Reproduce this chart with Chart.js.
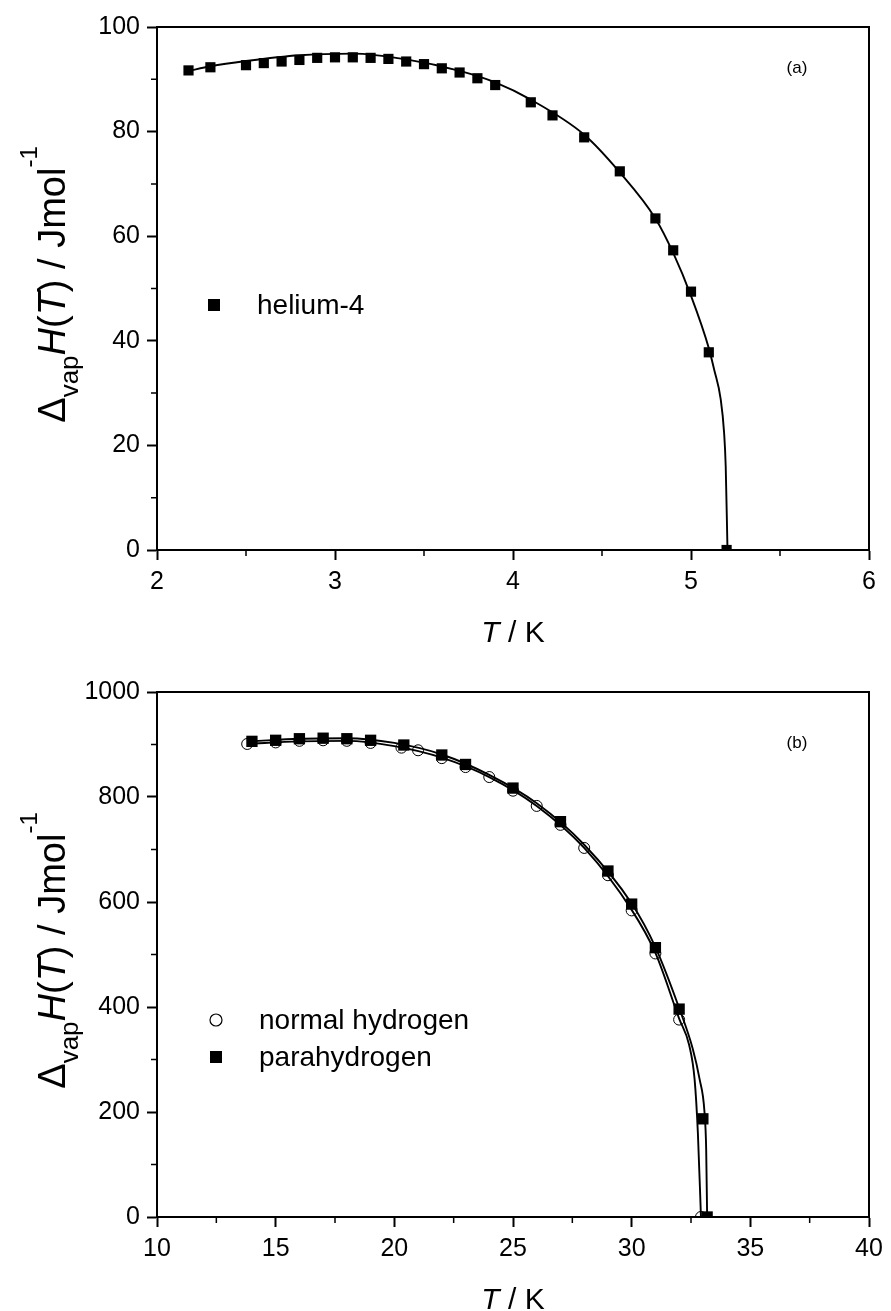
<!DOCTYPE html>
<html>
<head>
<meta charset="utf-8">
<script src="https://cdn.jsdelivr.net/npm/chart.js@4.4.0/dist/chart.umd.min.js"></script>
<style>
  html, body { margin: 0; padding: 0; background: #fff; }
  canvas { position: absolute; left: 0; }
  #chartA { top: 0; }
  #chartB { top: 665px; }
</style>
</head>
<body>
<canvas id="chartA" width="891" height="665"></canvas>
<canvas id="chartB" width="891" height="646"></canvas>
<script>
// (a) helium-4 : measured points and fitted curve
const heT = [2.177, 2.3, 2.5, 2.6, 2.7, 2.8, 2.9, 3.0, 3.1, 3.2, 3.3, 3.4, 3.5, 3.6, 3.7, 3.8, 3.9, 4.1, 4.222, 4.4, 4.6, 4.8, 4.9, 5.0, 5.1, 5.2];
const heH = [91.7, 92.3, 92.7, 93.1, 93.4, 93.7, 94.1, 94.2, 94.2, 94.1, 93.9, 93.4, 92.9, 92.1, 91.3, 90.2, 88.9, 85.6, 83.1, 78.9, 72.4, 63.4, 57.3, 49.4, 37.8, 0];
const heFitT = [2.177, 2.3, 2.5, 2.8, 3.1, 3.4, 3.7, 3.9, 4.1, 4.4, 4.6, 4.8, 4.9, 5.0, 5.1, 5.13, 5.167, 5.186, 5.195, 5.205];
const heFitH = [91.6, 92.5, 93.5, 94.6, 94.9, 93.8, 91.6, 89.4, 86.1, 79.4, 72.2, 63.4, 56.8, 48.6, 38.6, 34.5, 28.8, 22.4, 16, 0];

// (b) hydrogen : normal (open circles) and para (filled squares)
const normalT = [13.8, 15, 16, 17, 18, 19, 20.3, 21, 22, 23, 24, 25, 26, 27, 28, 29, 30, 31, 32, 32.92];
const normalH = [901, 904, 907, 908, 907, 903, 894, 889, 874, 857, 838, 812, 783, 747, 703, 651, 584, 502, 376, 0];
const paraT = [14, 15, 16, 17, 18, 19, 20.4, 22, 23, 25, 27, 29, 30, 31, 32, 33, 33.18];
const paraH = [906, 908, 911, 912, 911, 908, 899, 880, 862, 817, 753, 659, 596, 513, 396, 187, 0];
const normalFitT = [13.8, 16, 18, 20, 22, 24, 26, 28, 30, 31, 32, 32.42, 32.65, 32.79, 32.92];
const normalFitH = [901, 906, 907, 897, 875, 838, 783, 703, 585, 503, 378, 328, 263, 160, 0];
const paraFitT = [14, 16, 18, 20, 22, 24, 26, 28, 30, 31, 32, 32.57, 32.86, 33.07, 33.14, 33.18];
const paraFitH = [906, 911, 912, 903, 881, 842, 788, 709, 597, 514, 398, 321, 263, 199, 128, 0];

// tick values
const xTicksA = [2, 3, 4, 5, 6];
const xMinorA = [2.5, 3.5, 4.5, 5.5];
const yTicksA = [0, 20, 40, 60, 80, 100];
const yMinorA = [10, 30, 50, 70, 90];
const xTicksB = [10, 15, 20, 25, 30, 35, 40];
const xMinorB = [12.5, 17.5, 22.5, 27.5, 32.5, 37.5];
const yTicksB = [0, 200, 400, 600, 800, 1000];
const yMinorB = [100, 300, 500, 700, 900];

const toXY = (xs, ys) => xs.map((v, i) => ({ x: v, y: ys[i] }));

// draw a run of text pieces with different fonts / baseline shifts
function richText(ctx, parts, cx, baseY) {
  let total = 0;
  parts.forEach(p => { ctx.font = p.f; p.w = ctx.measureText(p.t).width; total += p.w; });
  let x = cx - total / 2;
  ctx.textBaseline = 'alphabetic';
  ctx.textAlign = 'left';
  parts.forEach(p => {
    ctx.font = p.f;
    ctx.fillText(p.t, x, baseY + (p.dy || 0));
    x += p.w;
  });
}

const yTitleParts = () => [
  { t: 'Δ', f: '38px Arial' },
  { t: 'vap', f: '26px Arial', dy: 13 },
  { t: 'H', f: 'italic 38px Arial' },
  { t: '(', f: '38px Arial' },
  { t: 'T', f: 'italic 38px Arial' },
  { t: ') / Jmol', f: '38px Arial' },
  { t: '-1', f: '24px Arial', dy: -28 }
];
const xTitleParts = () => [
  { t: 'T', f: 'italic 30px Arial' },
  { t: ' / K', f: '30px Arial' }
];

function decoPlugin(opts) {
  return {
    id: 'deco',
    afterDraw(chart) {
      const { ctx, chartArea: a, scales: { x, y } } = chart;
      ctx.save();
      ctx.strokeStyle = '#000';
      ctx.fillStyle = '#000';
      ctx.lineWidth = 2;
      // top + right frame
      ctx.beginPath();
      ctx.moveTo(a.left, a.top); ctx.lineTo(a.right, a.top); ctx.lineTo(a.right, a.bottom);
      ctx.stroke();
      // minor ticks
      ctx.lineWidth = 1.5;
      ctx.beginPath();
      opts.xMinor.forEach(v => { const px = x.getPixelForValue(v); ctx.moveTo(px, a.bottom); ctx.lineTo(px, a.bottom + 6); });
      opts.yMinor.forEach(v => { const py = y.getPixelForValue(v); ctx.moveTo(a.left - 6, py); ctx.lineTo(a.left, py); });
      ctx.stroke();

      // axis titles
      ctx.save();
      ctx.translate(65, (a.top + a.bottom) / 2 - 4);
      ctx.rotate(-Math.PI / 2);
      richText(ctx, yTitleParts(), 0, 0);
      ctx.restore();
      richText(ctx, xTitleParts(), (a.left + a.right) / 2, a.bottom + 92);

      // panel label
      ctx.font = '17px Arial';
      ctx.textAlign = 'center';
      ctx.textBaseline = 'middle';
      ctx.fillText(opts.label, 797, opts.labelY);

      // legend
      ctx.font = '28px Arial';
      ctx.textAlign = 'left';
      opts.legend.forEach(item => {
        if (item.style === 'rect') {
          ctx.fillRect(item.x - 6, item.y - 6, 12, 12);
        } else {
          ctx.lineWidth = 1.2;
          ctx.beginPath();
          ctx.arc(item.x, item.y, 6, 0, Math.PI * 2);
          ctx.stroke();
        }
        ctx.fillText(item.text, item.x + 43, item.y + 1);
      });
      ctx.restore();
    }
  };
}

function axisOpts(min, max, tickVals, fitFn) {
  return {
    type: 'linear',
    min: min,
    max: max,
    afterBuildTicks: (s) => { s.ticks = tickVals.map(v => ({ value: v })); },
    ticks: {
      color: '#000', font: { family: 'Arial', size: 25 }, padding: 7, maxRotation: 0, autoSkip: false,
      callback: (v) => String(v)
    },
    grid: { display: true, drawOnChartArea: false, drawTicks: true, tickLength: 10, tickWidth: 2, tickColor: '#000' },
    border: { display: true, color: '#000', width: 2 },
    afterFit: fitFn
  };
}

const lineSet = (data) => ({
  data: data, showLine: true, pointRadius: 0, borderColor: '#000', borderWidth: 1.9,
  cubicInterpolationMode: 'monotone', fill: false, order: 3
});

const baseOptions = (xs, ys) => ({
  responsive: false,
  animation: false,
  devicePixelRatio: 1,
  layout: { padding: { top: 27, right: 22, left: 0, bottom: 0 } },
  plugins: { legend: { display: false }, tooltip: { enabled: false } },
  scales: { x: xs, y: ys }
});

new Chart(document.getElementById('chartA'), {
  type: 'scatter',
  data: {
    datasets: [
      lineSet(toXY(heFitT, heFitH)),
      { data: toXY(heT, heH), pointStyle: 'rect', pointRadius: 7.2, backgroundColor: '#000', borderColor: '#000', borderWidth: 0, showLine: false, order: 1 }
    ]
  },
  options: baseOptions(
    axisOpts(2, 6, xTicksA, (s) => { s.height = 115; }),
    axisOpts(0, 100, yTicksA, (s) => { s.width = 157; })
  ),
  plugins: [decoPlugin({
    xMinor: xMinorA, yMinor: yMinorA, label: '(a)', labelY: 68,
    legend: [{ style: 'rect', x: 214, y: 305, text: 'helium-4' }]
  })]
});

new Chart(document.getElementById('chartB'), {
  type: 'scatter',
  data: {
    datasets: [
      lineSet(toXY(normalFitT, normalFitH)),
      lineSet(toXY(paraFitT, paraFitH)),
      { data: toXY(normalT, normalH), pointStyle: 'circle', pointRadius: 5.5, backgroundColor: 'rgba(0,0,0,0)', borderColor: '#000', borderWidth: 1, showLine: false, order: 2 },
      { data: toXY(paraT, paraH), pointStyle: 'rect', pointRadius: 8, backgroundColor: '#000', borderColor: '#000', borderWidth: 0, showLine: false, order: 1 }
    ]
  },
  options: baseOptions(
    axisOpts(10, 40, xTicksB, (s) => { s.height = 94; }),
    axisOpts(0, 1000, yTicksB, (s) => { s.width = 157; })
  ),
  plugins: [decoPlugin({
    xMinor: xMinorB, yMinor: yMinorB, label: '(b)', labelY: 78,
    legend: [
      { style: 'circle', x: 216, y: 355, text: 'normal hydrogen' },
      { style: 'rect', x: 216, y: 392, text: 'parahydrogen' }
    ]
  })]
});
</script>
</body>
</html>
